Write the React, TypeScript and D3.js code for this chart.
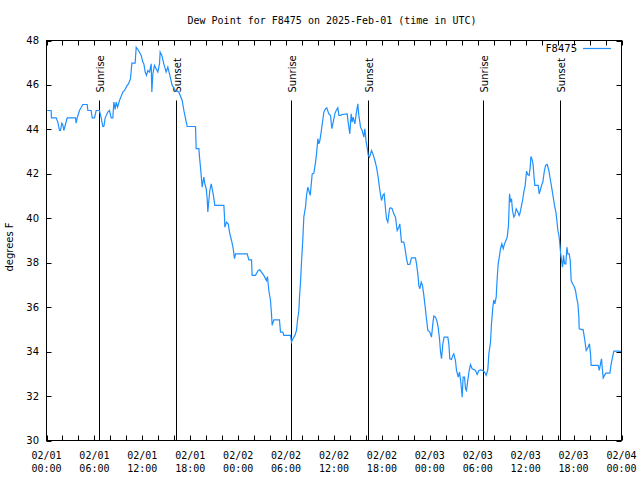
import React from 'react';
import * as d3 from 'd3';

const title = 'Dew Point for F8475 on 2025-Feb-01 (time in UTC)';
const seriesName = 'F8475';
const yLabel = 'degrees F';

// hours since 2025-02-01 00:00 UTC
const hours = [
  0.08, 0.58, 0.62, 1.21, 1.42, 1.63, 1.75, 1.92, 2.05, 2.17, 2.59, 3.63, 3.71, 3.84, 4.13, 4.55, 5.09, 5.18, 5.59, 5.72,
  6.01, 6.22, 6.63, 6.85, 7.05, 7.18, 7.35, 7.68, 7.89, 8.1, 8.31, 8.43, 8.6, 8.72, 8.9, 9.14, 9.56, 9.77, 10.1, 10.27,
  10.52, 10.69, 11.1, 11.23, 11.52, 11.86, 12.06, 12.19, 12.36, 12.52, 12.69, 12.9, 13.11, 13.19, 13.32, 13.52, 13.94, 14.15, 14.23, 14.44,
  14.69, 14.98, 15.19, 15.4, 15.74, 16.15, 16.57, 16.99, 17.2, 17.41, 17.62, 18.66, 18.74, 19.08, 19.16, 19.28, 19.37, 19.49, 19.7, 19.83,
  20.0, 20.12, 20.2, 20.33, 20.45, 20.62, 20.87, 21.08, 22.21, 22.29, 22.33, 22.54, 22.75, 22.96, 23.17, 23.38, 23.54, 23.67, 25.13, 25.34,
  25.67, 25.75, 26.17, 26.5, 26.71, 27.21, 27.55, 27.67, 27.84, 28.05, 28.17, 28.26, 28.47, 29.17, 29.3, 29.59, 29.72, 30.55, 30.68, 30.85,
  31.1, 31.3, 31.43, 31.6, 31.68, 31.81, 31.93, 32.1, 32.22, 32.43, 32.56, 32.72, 32.85, 33.02, 33.14, 33.27, 33.48, 33.69, 33.81, 33.98,
  34.1, 34.23, 34.39, 34.56, 34.73, 34.94, 35.1, 35.35, 35.56, 35.73, 35.9, 36.1, 36.27, 36.48, 36.61, 36.82, 37.02, 37.65, 37.77, 37.98,
  38.15, 38.27, 38.4, 38.61, 38.78, 38.98, 39.11, 39.32, 39.53, 39.74, 39.86, 40.03, 40.15, 40.28, 40.45, 40.7, 40.87, 41.12, 41.32, 41.53,
  41.74, 41.95, 42.12, 42.28, 42.45, 42.57, 42.74, 42.95, 43.07, 43.28, 43.49, 43.7, 43.91, 44.12, 44.24, 44.45, 44.74, 44.87, 45.08, 45.24,
  45.49, 45.7, 46.2, 46.33, 46.5, 46.62, 46.75, 46.92, 47.08, 47.25, 47.42, 47.58, 47.75, 48.0, 48.21, 48.37, 48.5, 48.71, 48.92, 49.04,
  49.21, 49.34, 49.46, 49.63, 49.79, 50.25, 50.38, 50.5, 50.71, 50.88, 51.0, 51.21, 51.34, 51.55, 51.71, 51.88, 52.05, 52.17, 52.34, 52.47,
  52.59, 52.76, 52.93, 53.09, 53.3, 53.72, 53.93, 54.14, 54.35, 54.64, 54.85, 55.05, 55.26, 55.39, 55.6, 55.72, 55.89, 56.01, 56.14, 56.31,
  56.43, 56.56, 56.73, 56.85, 57.02, 57.19, 57.35, 57.52, 57.69, 57.85, 57.98, 58.1, 58.23, 58.35, 58.52, 58.65, 58.81, 59.02, 59.19, 59.27,
  59.44, 59.61, 59.77, 59.94, 60.11, 60.27, 60.44, 60.57, 60.65, 60.82, 60.94, 61.03, 61.15, 61.57, 61.69, 61.82, 61.99, 62.15, 62.32, 62.49,
  62.7, 62.9, 63.11, 63.28, 63.45, 63.61, 63.78, 63.91, 64.03, 64.16, 64.24, 64.36, 64.49, 64.61, 64.74, 64.87, 65.03, 65.16, 65.28, 65.45,
  65.58, 65.7, 65.87, 66.08, 66.24, 66.37, 66.54, 66.66, 66.7, 67.2, 67.41, 67.58, 67.79, 67.99, 68.12, 68.2, 69.08, 69.21, 69.37, 69.5,
  69.58, 69.71, 69.87, 70.04, 70.54, 70.71, 70.88, 71.04, 71.67, 72.0,
];

const dewF = [
  44.85, 44.85, 44.52, 44.52, 44.33, 43.95, 43.95, 44.28, 44.2, 43.95, 44.52, 44.52, 44.28, 44.52, 44.85, 45.12, 45.12, 44.85, 44.85, 44.52,
  44.52, 44.85, 44.85, 44.52, 44.13, 44.13, 44.52, 44.78, 44.85, 44.52, 44.52, 45.23, 44.9, 45.23, 45.0, 45.3, 45.68, 45.75, 45.98, 46.05,
  46.28, 46.98, 46.98, 47.7, 47.55, 47.33, 47.03, 46.95, 46.58, 46.43, 46.65, 46.58, 46.95, 45.68, 46.5, 46.88, 46.58, 46.95, 47.48, 47.33,
  46.95, 46.58, 46.8, 46.5, 45.98, 45.75, 45.68, 45.3, 44.85, 44.48, 44.13, 44.13, 43.13, 43.13, 42.75, 42.3, 41.93, 41.4, 41.85, 41.55,
  41.33, 40.88, 40.28, 40.8, 41.25, 41.55, 41.1, 40.58, 40.58, 40.05, 39.6, 39.83, 39.75, 39.3, 39.0, 38.63, 38.18, 38.4, 38.4, 38.13,
  38.13, 37.43, 37.43, 37.65, 37.68, 37.43, 37.2, 37.38, 36.75, 36.3, 35.7, 35.18, 35.43, 35.43, 34.88, 34.88, 34.73, 34.73, 34.43, 34.58,
  34.73, 34.95, 35.4, 35.85, 36.45, 37.13, 38.03, 39.08, 40.05, 40.5, 41.03, 41.4, 41.25, 41.03, 41.48, 42.0, 42.03, 42.53, 42.9, 43.58,
  43.35, 43.5, 43.88, 44.33, 44.78, 44.93, 44.97, 44.7, 44.63, 44.03, 44.33, 44.7, 44.85, 44.97, 44.63, 44.63, 44.67, 44.7, 44.33, 43.8,
  44.7, 44.33, 44.55, 44.25, 44.7, 45.15, 44.63, 44.1, 43.95, 43.65, 44.03, 43.43, 43.2, 42.83, 42.75, 43.05, 42.9, 42.6, 42.3, 41.85,
  41.25, 40.8, 41.03, 41.1, 40.43, 39.98, 39.83, 40.43, 40.47, 40.43, 40.2, 40.05, 39.45, 39.6, 39.75, 38.93, 38.93, 38.7, 38.18, 37.92,
  37.92, 38.22, 38.22, 37.95, 37.5, 36.98, 36.83, 37.13, 36.98, 36.53, 36.0, 35.48, 34.95, 34.88, 34.65, 35.25, 35.6, 35.55, 35.33, 35.1,
  34.58, 33.98, 33.68, 34.35, 34.65, 34.65, 34.35, 33.68, 33.65, 33.83, 33.9, 33.6, 33.15, 32.85, 33.08, 32.63, 31.95, 32.85, 32.85, 32.33,
  32.25, 32.73, 33.15, 33.42, 33.23, 33.15, 32.97, 33.15, 33.18, 33.15, 33.08, 32.93, 33.18, 33.9, 34.43, 35.25, 36.0, 36.33, 36.15, 36.45,
  37.28, 37.95, 38.33, 38.63, 38.85, 38.63, 38.85, 39.0, 39.15, 39.68, 41.1, 40.73, 40.88, 40.35, 40.05, 40.13, 40.43, 40.28, 40.13, 40.2,
  40.5, 40.8, 41.18, 41.48, 42.12, 41.97, 41.93, 42.3, 42.78, 42.63, 42.38, 41.93, 41.48, 41.48, 41.1, 41.25, 41.48, 41.63, 42.08, 42.38,
  42.42, 42.15, 41.7, 41.33, 40.95, 40.58, 40.28, 39.9, 39.45, 39.23, 39.0, 38.48, 38.1, 37.8, 38.33, 37.95, 37.95, 38.7, 38.4, 38.4,
  38.1, 37.2, 37.05, 36.93, 36.75, 36.45, 36.15, 35.55, 35.03, 34.98, 34.5, 34.05, 34.17, 34.35, 33.9, 33.38, 33.38, 33.15, 33.45, 33.68,
  33.3, 32.82, 32.93, 33.03, 33.03, 33.45, 33.75, 34.02, 34.02, 34.0,
];

const sunriseHours = [6.63, 30.61, 54.6];
const sunsetHours = [16.18, 40.22, 64.25];
const yTicks = [30, 32, 34, 36, 38, 40, 42, 44, 46, 48];

const T0 = Date.UTC(2025, 1, 1);
const toDate = (h: number) => new Date(T0 + h * 3600 * 1000);

export default function App() {
  const W = 640, H = 480;
  const L = 46.5, R = 621.5, T = 40.5, B = 440.5;
  const x = d3.scaleUtc().domain([toDate(0), toDate(72)]).range([L, R]);
  const y = d3.scaleLinear().domain([30, 48]).range([B, T]);

  const data = hours.map((h, i) => ({ t: toDate(h), v: dewF[i] }));
  const line = d3.line<{ t: Date; v: number }>().x(d => x(d.t)).y(d => y(d.v));

  const minor = x.ticks(d3.utcHour.every(2) as any);
  const major = x.ticks(d3.utcHour.every(6) as any);
  const fmtD = d3.utcFormat('%m/%d');
  const fmtT = d3.utcFormat('%H:%M');

  const mono = '"DejaVu Sans Mono", monospace';
  const sans = '"DejaVu Sans", sans-serif';
  const tick = 5;
  const markTop = B - (B - T) * 0.85;
  const labelY = B - (B - T) * 0.87;

  const markers = [
    ...sunriseHours.map(h => ({ h, label: 'Sunrise' })),
    ...sunsetHours.map(h => ({ h, label: 'Sunset' })),
  ];

  return (
    <svg width={W} height={H} style={{ position: 'absolute', left: 0, top: 0, background: '#fff' }}>
      <rect x={0} y={0} width={W} height={H} fill="#fff" />
      <text x={332} y={24} textAnchor="middle" fontFamily={mono} fontSize={10}>{title}</text>

      {minor.map((d, i) => (
        <g key={'mt' + i} stroke="#000">
          <line x1={Math.round(x(d)) + 0.5} x2={Math.round(x(d)) + 0.5} y1={B} y2={B - tick} />
          <line x1={Math.round(x(d)) + 0.5} x2={Math.round(x(d)) + 0.5} y1={T} y2={T + tick} />
        </g>
      ))}
      {yTicks.map(v => (
        <g key={'yt' + v}>
          <line x1={L} x2={L + tick} y1={Math.round(y(v)) + 0.5} y2={Math.round(y(v)) + 0.5} stroke="#000" />
          <line x1={R} x2={R - tick} y1={Math.round(y(v)) + 0.5} y2={Math.round(y(v)) + 0.5} stroke="#000" />
          <text x={39} y={y(v)} dy="0.35em" textAnchor="end" fontFamily={sans} fontSize={10}>{v}</text>
        </g>
      ))}
      {major.map((d, i) => (
        <g key={'xl' + i} fontFamily={mono} fontSize={10} textAnchor="middle">
          <text x={x(d)} y={459}>{fmtD(d)}</text>
          <text x={x(d)} y={472}>{fmtT(d)}</text>
        </g>
      ))}

      <text transform={`translate(13,247) rotate(-90)`} textAnchor="middle" fontFamily={sans} fontSize={10}>{yLabel}</text>

      {markers.map((m, i) => {
        const px = Math.round(x(toDate(m.h))) + 0.5;
        return (
          <g key={'mk' + i}>
            <line x1={px} x2={px} y1={B} y2={markTop} stroke="#000" />
            <text transform={`translate(${px + 4.5},${labelY}) rotate(-90)`} textAnchor="start" fontFamily={sans} fontSize={10}>{m.label}</text>
          </g>
        );
      })}

      <path d={line(data) || ''} fill="none" stroke="#1e90ff" strokeWidth={1.2} />

      <rect x={L} y={T} width={R - L} height={B - T} fill="none" stroke="#000" />

      <text x={577} y={52} textAnchor="end" fontFamily={sans} fontSize={10}>{seriesName}</text>
      <line x1={583} x2={611} y1={48.5} y2={48.5} stroke="#1e90ff" strokeWidth={1.2} />
    </svg>
  );
}
